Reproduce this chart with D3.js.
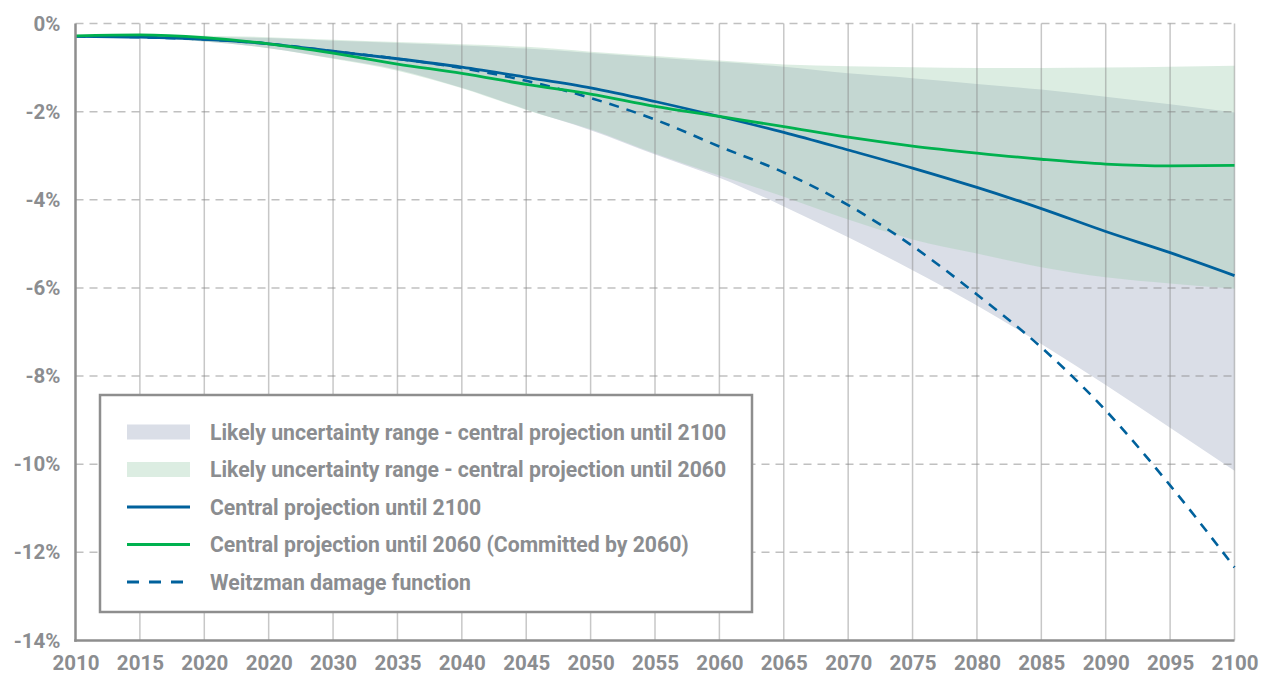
<!DOCTYPE html>
<html>
<head>
<meta charset="utf-8">
<script src="https://cdn.jsdelivr.net/npm/d3@7"></script>
<style>
  html, body { margin: 0; padding: 0; background: #ffffff; }
  svg { display: block; }
  text { font-family: Roboto, "Liberation Sans", sans-serif; font-weight: 700; fill: #8b8d90; }
</style>
</head>
<body>
<svg id="chart" width="1262" height="675"></svg>
<script>
// ---- data (percent change) ----
const years = [2010,2015,2020,2025,2030,2035,2040,2045,2050,2055,2060,2065,2070,2075,2080,2085,2090,2095,2100];
const xTickLabels = ["2010","2015","2020","2020","2030","2035","2040","2045","2050","2055","2060","2065","2070","2075","2080","2085","2090","2095","2100"];
const yTicks = [0,-2,-4,-6,-8,-10,-12,-14];

const central2100 = [-0.29,-0.31,-0.36,-0.46,-0.63,-0.80,-0.99,-1.22,-1.46,-1.77,-2.11,-2.47,-2.87,-3.28,-3.72,-4.20,-4.72,-5.20,-5.72];
const central2060 = [-0.28,-0.26,-0.32,-0.46,-0.67,-0.92,-1.13,-1.38,-1.60,-1.88,-2.11,-2.34,-2.58,-2.78,-2.94,-3.08,-3.19,-3.23,-3.22];
const weitzman    = [-0.29,-0.31,-0.36,-0.46,-0.63,-0.80,-1.01,-1.30,-1.69,-2.18,-2.79,-3.38,-4.12,-5.05,-6.15,-7.35,-8.78,-10.48,-12.34];

const range2100Upper = [-0.27,-0.27,-0.30,-0.33,-0.39,-0.44,-0.50,-0.57,-0.67,-0.77,-0.87,-0.98,-1.13,-1.24,-1.37,-1.50,-1.66,-1.83,-2.02];
const range2100Lower = [-0.31,-0.33,-0.41,-0.56,-0.79,-1.05,-1.46,-1.95,-2.42,-2.97,-3.50,-4.15,-4.85,-5.60,-6.40,-7.27,-8.20,-9.17,-10.15];
const range2060Upper = [-0.26,-0.25,-0.28,-0.31,-0.37,-0.42,-0.47,-0.53,-0.64,-0.74,-0.84,-0.93,-0.97,-0.99,-1.01,-1.01,-1.00,-0.98,-0.96];
const range2060Lower = [-0.31,-0.33,-0.41,-0.56,-0.80,-1.07,-1.47,-1.96,-2.40,-2.95,-3.45,-3.93,-4.45,-4.90,-5.22,-5.53,-5.76,-5.90,-6.02];

const legendLabels = [
  "Likely uncertainty range - central projection until 2100",
  "Likely uncertainty range - central projection until 2060",
  "Central projection until 2100",
  "Central projection until 2060 (Committed by 2060)",
  "Weitzman damage function"
];

// ---- layout ----
const svg = d3.select("#chart");
const x = d3.scaleLinear().domain([2010, 2100]).range([75.5, 1234.5]);
const y = d3.scaleLinear().domain([0, -14]).range([23.5, 640.5]);

const BLUE = "#00619c", GREEN = "#00b14f";

const area = (lo, hi) => d3.area()
  .x((d, i) => x(years[i]))
  .y0((d, i) => y(lo[i]))
  .y1((d, i) => y(hi[i]))
  .curve(d3.curveMonotoneX)(years);

const line = vals => d3.line()
  .x((d, i) => x(years[i]))
  .y((d, i) => y(vals[i]))
  .curve(d3.curveMonotoneX)(years);

// bands
svg.append("path").attr("d", area(range2100Lower, range2100Upper)).attr("fill", "#dadee7");
svg.append("path").attr("d", area(range2060Lower, range2060Upper)).attr("fill", "#9bccac").attr("fill-opacity", 0.35);

// gridlines (vertical solid)
const gridG = svg.append("g");
gridG.selectAll("line.v").data(years.slice(1)).join("line")
  .attr("x1", d => x(d)).attr("x2", d => x(d))
  .attr("y1", y(0)).attr("y2", y(-14))
  .attr("stroke", "rgba(130,130,130,0.45)").attr("stroke-width", 1.5);
// horizontal dashed
gridG.selectAll("line.h").data(yTicks.slice(0, -1)).join("line")
  .attr("x1", x(2010)).attr("x2", x(2100))
  .attr("y1", d => y(d)).attr("y2", d => y(d))
  .attr("stroke", "rgba(130,130,130,0.5)").attr("stroke-width", 1.5)
  .attr("stroke-dasharray", "8,6");

// lines
svg.append("path").attr("d", line(central2100)).attr("fill", "none").attr("stroke", BLUE).attr("stroke-width", 2.8);
svg.append("path").attr("d", line(weitzman)).attr("fill", "none").attr("stroke", BLUE).attr("stroke-width", 2.6).attr("stroke-dasharray", "10,8");
svg.append("path").attr("d", line(central2060)).attr("fill", "none").attr("stroke", GREEN).attr("stroke-width", 2.8);

// axes
const yAxis = d3.axisLeft(y).tickValues(yTicks).tickSize(0).tickPadding(15).tickFormat(d => d + "%");
const yg = svg.append("g").attr("transform", `translate(${x(2010)},0)`).call(yAxis);
yg.select(".domain").remove();
yg.selectAll("text").attr("font-size", 20.5).attr("fill", "#8b8d90").style("font-family", "Roboto, sans-serif").style("font-weight", 700);

const xAxis = d3.axisBottom(x).tickValues(years).tickSize(0).tickPadding(15)
  .tickFormat((d, i) => xTickLabels[i]);
const xg = svg.append("g").attr("transform", `translate(0,${y(-14)})`).call(xAxis);
xg.select(".domain").remove();
xg.selectAll("text").attr("font-size", 20.5).attr("fill", "#8b8d90").style("font-family", "Roboto, sans-serif").style("font-weight", 700);

svg.append("line").attr("x1", x(2010)).attr("x2", x(2010)).attr("y1", y(0)).attr("y2", y(-14) + 1.25)
  .attr("stroke", "#8e8e8e").attr("stroke-width", 2.5);
svg.append("line").attr("x1", x(2010) - 1.25).attr("x2", x(2100)).attr("y1", y(-14)).attr("y2", y(-14))
  .attr("stroke", "#8e8e8e").attr("stroke-width", 2.5);

// legend
const lg = svg.append("g");
lg.append("rect").attr("x", 100).attr("y", 395).attr("width", 652).attr("height", 217)
  .attr("fill", "#ffffff").attr("stroke", "#8e8e8e").attr("stroke-width", 2.5);
const rowY = [432, 469.5, 507, 544.5, 582];
const sx0 = 127, sx1 = 190;
lg.append("rect").attr("x", sx0).attr("y", rowY[0] - 7.5).attr("width", sx1 - sx0).attr("height", 15).attr("fill", "#dadee7");
lg.append("rect").attr("x", sx0).attr("y", rowY[1] - 7.5).attr("width", sx1 - sx0).attr("height", 15).attr("fill", "#dcede2");
lg.append("line").attr("x1", sx0).attr("x2", sx1).attr("y1", rowY[2]).attr("y2", rowY[2]).attr("stroke", BLUE).attr("stroke-width", 3);
lg.append("line").attr("x1", sx0).attr("x2", sx1).attr("y1", rowY[3]).attr("y2", rowY[3]).attr("stroke", GREEN).attr("stroke-width", 3);
lg.append("line").attr("x1", sx0).attr("x2", sx1).attr("y1", rowY[4]).attr("y2", rowY[4]).attr("stroke", BLUE).attr("stroke-width", 3).attr("stroke-dasharray", "12,10");
lg.selectAll("text.lab").data(legendLabels).join("text")
  .attr("x", 210).attr("y", (d, i) => rowY[i]).attr("dy", "0.36em")
  .attr("font-size", 21.2).text(d => d);
</script>
</body>
</html>
